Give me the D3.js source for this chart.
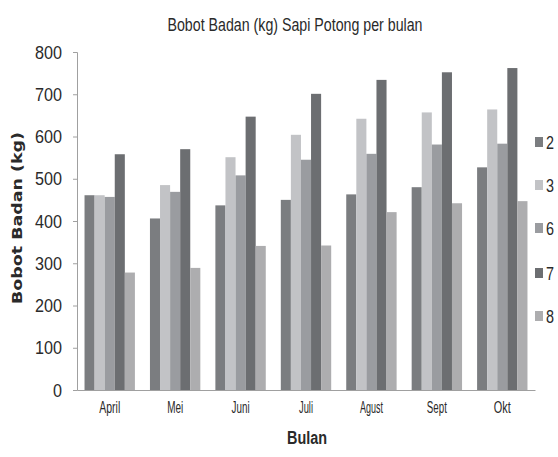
<!DOCTYPE html>
<html><head><meta charset="utf-8">
<script src="https://cdn.jsdelivr.net/npm/d3@7"></script>
<style>body{margin:0;background:#fff}</style>
</head><body>
<script>
const categories = ["April","Mei","Juni","Juli","Agust","Sept","Okt"];
const seriesNames = ["2","3","6","7","8"];
const s2 = [461,406,437,450,463,480,527];
const s3 = [461,485,551,604,642,657,664];
const s6 = [457,469,508,545,559,581,583];
const s7 = [558,570,647,701,734,752,762];
const s8 = [278,289,341,342,421,442,447];
const seriesValues = [s2,s3,s6,s7,s8];
const yTicks = [0,100,200,300,400,500,600,700,800];
const colors = ["#7b7d80","#c2c3c6","#9a9ca0","#6c6e71","#adadaf"];

const W=558,H=457;
const svg=d3.select("body").append("svg").attr("width",W).attr("height",H);
const x0=d3.scaleBand().domain(categories).range([77,535]).paddingInner(0.23).paddingOuter(0.115);
const x1=d3.scaleBand().domain(seriesNames).range([0,x0.bandwidth()]);
const y=d3.scaleLinear().domain([0,800]).range([390,52]);

const g=svg.append("g");
categories.forEach((c,i)=>{
  seriesNames.forEach((s,j)=>{
    g.append("rect").attr("x",x0(c)+x1(s)).attr("y",y(seriesValues[j][i]))
     .attr("width",x1.bandwidth()).attr("height",y(0)-y(seriesValues[j][i]))
     .attr("fill",colors[j]);
  });
});

const ya=svg.append("g").attr("transform","translate(77,0)")
  .call(d3.axisLeft(y).tickValues(yTicks).tickSize(4).tickPadding(11));
ya.select(".domain").attr("stroke","#a0a0a0");
ya.selectAll(".tick line").attr("stroke","#a0a0a0");
ya.selectAll("text").attr("font-family","Liberation Sans").attr("font-size",19).attr("fill","#2a2a2a")
  .attr("textLength",d=>String(d).length*9).attr("lengthAdjust","spacingAndGlyphs");

const xa=svg.append("g").attr("transform","translate(0,390)")
  .call(d3.axisBottom(x0).tickSize(0).tickPadding(12));
xa.select(".domain").attr("stroke","#a0a0a0");
const xw={April:21,Mei:16,Juni:18,Juli:14,Agust:23,Sept:20,Okt:17};
xa.selectAll("text").attr("font-family","Liberation Sans").attr("font-size",16).attr("fill","#2a2a2a")
  .attr("textLength",d=>xw[d]).attr("lengthAdjust","spacingAndGlyphs");

svg.append("text").attr("x",295).attr("y",31).attr("text-anchor","middle")
  .attr("font-family","Liberation Sans").attr("font-size",17.5).attr("fill","#2a2a2a")
  .attr("textLength",255).attr("lengthAdjust","spacingAndGlyphs")
  .text("Bobot  Badan (kg) Sapi Potong per bulan");

svg.append("text").attr("transform","translate(22,218) rotate(-90)").attr("text-anchor","middle")
  .attr("font-family","DejaVu Sans").attr("font-weight","bold").attr("font-size",13.5).attr("fill","#2a2a2a")
  .attr("textLength",172).attr("lengthAdjust","spacingAndGlyphs")
  .text("Bobot Badan (kg)");

svg.append("text").attr("x",307).attr("y",444).attr("text-anchor","middle")
  .attr("font-family","Liberation Sans").attr("font-weight","bold").attr("font-size",18).attr("fill","#2a2a2a")
  .attr("textLength",40).attr("lengthAdjust","spacingAndGlyphs")
  .text("Bulan");

const legY=[142,185,228,273,316];
const leg=svg.append("g");
seriesNames.forEach((s,j)=>{
  leg.append("rect").attr("x",535).attr("y",legY[j]-5).attr("width",8).attr("height",10).attr("fill",colors[j]);
  leg.append("text").attr("x",546).attr("y",legY[j]+7).attr("font-family","Liberation Sans")
    .attr("font-size",18).attr("fill","#2a2a2a").attr("textLength",8).attr("lengthAdjust","spacingAndGlyphs").text(s);
});
</script>
</body></html>
